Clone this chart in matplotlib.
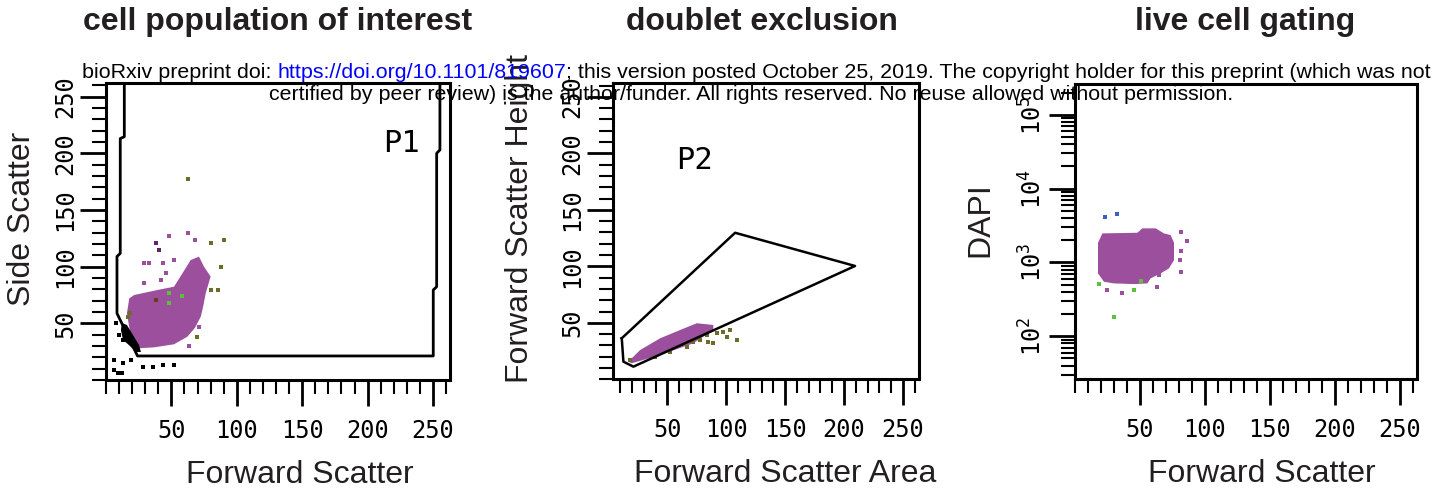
import matplotlib
matplotlib.use("Agg")
import matplotlib.pyplot as plt
from matplotlib.ticker import MultipleLocator, LogLocator, LogFormatterSciNotation, NullFormatter

# ---------------- data ----------------
# panel 1: forward vs side scatter
p1_cell_fsc = [17.8, 21.6, 39.4, 52.0, 58.4, 64.8, 71.1, 74.9, 80.0, 76.2, 74.5, 72.5, 68.0, 62.2, 52.0, 36.8, 24.1, 19.0, 16.0]
p1_cell_ssc = [72.0, 75.0, 79.4, 82.3, 94.0, 105.9, 108.8, 100.0, 91.2, 76.5, 66.0, 56.0, 46.0, 38.2, 31.5, 28.8, 27.9, 38.2, 58.8]
p1_debris_fsc = [12.2, 16.0, 20.6, 25.2, 26.7, 22.9, 17.5, 13.0, 11.4]
p1_debris_ssc = [50.3, 48.5, 39.7, 30.9, 24.7, 24.7, 30.9, 35.3, 44.1]
p1_black_fsc = [7.6, 10.2, 12.7, 6.3, 12.7, 19.0, 28.0, 35.6, 43.2, 52.0, 6.0, 9.0, 12.0]
p1_black_ssc = [50.0, 39.7, 35.3, 17.6, 14.7, 17.6, 11.7, 11.7, 13.2, 13.2, 9.0, 6.0, 6.0]
p1_purple_fsc = [48.3, 63.0, 68.1, 29.2, 33.0, 43.2, 52.0, 45.7, 29.2, 41.9, 72.4, 71.1, 63.5]
p1_purple_ssc = [127.0, 130.0, 123.5, 103.5, 103.5, 103.5, 105.9, 94.0, 85.3, 88.2, 79.4, 47.0, 30.0]
p1_dark_fsc = [38.1, 40.6]
p1_dark_ssc = [121.0, 114.7]
p1_olive_fsc = [63.0, 80.5, 90.2, 87.6, 80.5, 85.6, 69.9, 16.5, 18.6]
p1_olive_ssc = [177.0, 121.0, 123.5, 100.0, 79.4, 79.4, 38.2, 55.9, 58.8]
p1_green_fsc = [48.3, 48.3, 58.0]
p1_green_ssc = [77.0, 67.6, 74.0]
p1_brown_fsc = [38.1]
p1_brown_ssc = [71.0]
p1_gate_fsc = [14.0, 14.0, 10.9, 10.9, 8.4, 8.4, 24.1, 250.2, 250.2, 252.8, 252.8, 255.3, 255.3]
p1_gate_ssc = [262, 214.6, 213, 111.7, 109, 58.8, 21.2, 21.2, 79.4, 82.3, 200, 203, 262]

# panel 2: forward scatter area vs height
p2_cell_area = [16.8, 26.8, 43.8, 60.7, 74.9, 89.0, 89.0, 72.0, 43.8, 19.7]
p2_cell_height = [15.6, 25.9, 36.3, 43.6, 49.6, 48.1, 43.6, 31.9, 21.5, 14.2]
p2_olive_area = [18.3, 39.5, 52.3, 66.4, 72.0, 77.7, 83.4, 84.8, 89.0, 91.9, 97.5, 100.4, 103.2, 108.9]
p2_olive_height = [17.1, 20.0, 24.4, 28.8, 33.3, 34.8, 39.2, 33.3, 31.9, 40.7, 42.1, 37.7, 43.6, 34.8]
p2_gate_area = [11.2, 107.5, 209.4, 21.1, 12.6, 11.2]
p2_gate_height = [36.3, 129.7, 100.3, 11.2, 15.6, 36.3]

# panel 3: forward scatter vs DAPI (log)
p3_cell_fsc = [17.7, 21.1, 48.0, 51.8, 62.1, 68.5, 73.6, 76.2, 76.2, 72.3, 65.9, 58.2, 55.7, 45.4, 30.0, 22.3, 17.7]
p3_cell_dapi = [1845, 2472, 2523, 2893, 2893, 2472, 2344, 1845, 1074, 828, 710, 607, 519, 508, 519, 546, 710]
p3_purple_fsc = [81.3, 85.9, 81.3, 80.9, 81.3, 63.4, 24.9, 36.5, 64.6]
p3_purple_dapi = [2600, 1963, 1435, 1074, 738, 467, 421, 387, 667]
p3_blue_fsc = [22.8, 32.0]
p3_blue_dapi = [4160, 4520]
p3_green_fsc = [18.5, 50.5, 45.4, 30.2]
p3_green_dapi = [508, 562, 421, 183]

titles = ["cell population of interest", "doublet exclusion", "live cell gating"]
xlabels = ["Forward Scatter", "Forward Scatter Area", "Forward Scatter"]
ylabels = ["Side Scatter", "Forward Scatter Height", "DAPI"]
linear_ticks = [50, 100, 150, 200, 250]

PURPLE = "#9b4f9d"
OLIVE = "#6b6b2b"
GREEN = "#5cc03c"
DARK = "#6a1f6e"
BROWN = "#6b3a1f"
BLUE = "#3f5fbf"
INK = "#231f20"
TICKFONT = "DejaVu Sans Mono"

plt.rcParams["font.family"] = ["Liberation Sans", "DejaVu Sans"]
plt.rcParams["mathtext.fontset"] = "custom"
plt.rcParams["mathtext.rm"] = TICKFONT

W, H = 1446, 497
fig = plt.figure(figsize=(W / 100, H / 100), dpi=100)
ax1 = fig.add_axes([106 / W, 1 - 380 / H, 344 / W, 297 / H])
ax2 = fig.add_axes([612.7 / W, 1 - 379.3 / H, 306.6 / W, 296 / H])
ax3 = fig.add_axes([1075 / W, 1 - 379.3 / H, 341.7 / W, 295.3 / H])


def dots(ax, xs, ys, color):
    ax.scatter(xs, ys, s=7, marker="s", color=color, linewidths=0, zorder=3)


def style(ax, i, ylog=False):
    for sp in ax.spines.values():
        sp.set_linewidth(2.2)
    ax.xaxis.set_major_locator(MultipleLocator(50))
    ax.xaxis.set_minor_locator(MultipleLocator(10))
    if not ylog:
        ax.yaxis.set_major_locator(MultipleLocator(50))
        ax.yaxis.set_minor_locator(MultipleLocator(10))
    ax.tick_params(which="major", direction="out", length=19, width=2,
                   labelsize=17, labelfontfamily=TICKFONT)
    ax.tick_params(which="minor", direction="out", length=10, width=1.5)
    ax.tick_params(axis="x", which="major", pad=9)
    ax.tick_params(axis="y", which="major", pad=1.5)
    ax.set_xlabel(xlabels[i], fontsize=23, color=INK)
    ax.set_ylabel(ylabels[i], fontsize=23, color=INK)
    ax.xaxis.label.set_va("center")
    ax.yaxis.label.set_va("center")


# panel 1
ax1.fill(p1_cell_fsc, p1_cell_ssc, color=PURPLE, lw=0, zorder=2)
ax1.fill(p1_debris_fsc, p1_debris_ssc, color="black", lw=0, zorder=2)
dots(ax1, p1_black_fsc, p1_black_ssc, "black")
dots(ax1, p1_purple_fsc, p1_purple_ssc, PURPLE)
dots(ax1, p1_dark_fsc, p1_dark_ssc, DARK)
dots(ax1, p1_olive_fsc, p1_olive_ssc, OLIVE)
dots(ax1, p1_green_fsc, p1_green_ssc, GREEN)
dots(ax1, p1_brown_fsc, p1_brown_ssc, BROWN)
ax1.plot(p1_gate_fsc, p1_gate_ssc, color="black", lw=2, zorder=4)
ax1.text(226, 209, "P1", fontsize=22, family=TICKFONT, ha="center", va="center")
ax1.set_xlim(0, 263)
ax1.set_ylim(0, 262)
style(ax1, 0)
ax1.set_xticks(linear_ticks)
ax1.set_yticks(linear_ticks)

# panel 2
ax2.fill(p2_cell_area, p2_cell_height, color=PURPLE, lw=0, zorder=2)
dots(ax2, p2_olive_area, p2_olive_height, OLIVE)
ax2.plot(p2_gate_area, p2_gate_height, color="black", lw=1.8, zorder=4)
ax2.text(72.6, 194, "P2", fontsize=22, family=TICKFONT, ha="center", va="center")
ax2.set_xlim(3.5, 264)
ax2.set_ylim(0, 262)
style(ax2, 1)
ax2.set_xticks(linear_ticks)
ax2.set_yticks(linear_ticks)

# panel 3
ax3.set_yscale("log")
ax3.fill(p3_cell_fsc, p3_cell_dapi, color=PURPLE, lw=0, zorder=2)
dots(ax3, p3_purple_fsc, p3_purple_dapi, PURPLE)
dots(ax3, p3_blue_fsc, p3_blue_dapi, BLUE)
dots(ax3, p3_green_fsc, p3_green_dapi, GREEN)
ax3.set_xlim(0, 263)
ax3.set_ylim(26, 262144)
ax3.yaxis.set_major_locator(LogLocator(base=10))
ax3.yaxis.set_minor_locator(LogLocator(base=10, subs=range(2, 10)))
ax3.yaxis.set_major_formatter(LogFormatterSciNotation())
ax3.yaxis.set_minor_formatter(NullFormatter())
style(ax3, 2, ylog=True)
ax3.set_xticks(linear_ticks)

for ax in (ax1, ax2, ax3):
    for lbl in ax.get_yticklabels():
        lbl.set_rotation(90)
        lbl.set_va("center")

# axis label positions
ax1.xaxis.set_label_coords(0.564, -0.32)
ax2.xaxis.set_label_coords(0.562, -0.32)
ax3.xaxis.set_label_coords(0.547, -0.32)
ax1.yaxis.set_label_coords(-0.243, 0.542)
ax2.yaxis.set_label_coords(-0.302, 0.542)
ax3.yaxis.set_label_coords(-0.278, 0.542)

# titles
for cx, t in zip([278, 762, 1245], titles):
    fig.text(cx / W, 1 - 22 / H, t, fontsize=23, fontweight="bold", color=INK,
             ha="center", va="center")

# preprint notice
fs = 15.4
r = fig.canvas.get_renderer()
y1 = 1 - 78 / H
x = 82 / W
parts = [("bioRxiv preprint doi:", "black"),
         ("https://doi.org/10.1101/819607", "#0000ff"),
         ("; this version posted October 25, 2019. The copyright holder for this preprint (which was not", "black")]
space = 0.278 * fs * 100 / 72 / W
for k, (txt, col) in enumerate(parts):
    t = fig.text(x, y1, txt, fontsize=fs, color=col, ha="left", va="baseline", zorder=10)
    bb = t.get_window_extent(renderer=r)
    x = bb.x1 / W
    if k == 0:
        x += space
fig.text(751 / W, 1 - 100 / H,
         "certified by peer review) is the author/funder. All rights reserved. No reuse allowed without permission.",
         fontsize=fs, color="black", ha="center", va="baseline", zorder=10)

fig.savefig("out.png", dpi=100)
